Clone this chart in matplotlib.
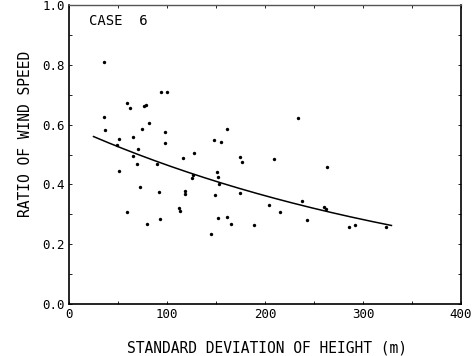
#!/usr/bin/env python3
import numpy as np
import matplotlib
matplotlib.use("Agg")
import matplotlib.pyplot as plt

# scatter points
sd_height = [35.2, 93.6, 99.5, 58.9, 62.2, 76.5, 78.5, 36.0, 36.7, 81.9,
             74.8, 97.7, 51.0, 65.6, 97.7, 48.7, 70.9, 147.7, 154.6, 161.5,
             65.8, 68.9, 89.5, 116.5, 127.8, 50.7, 125.5, 126.5, 174.5, 176.2,
             150.5, 151.7, 152.8, 72.4, 91.5, 118.2, 118.6, 149.3, 174.3, 59.2,
             112.2, 113.0, 79.9, 93.2, 152.3, 161.2, 165.3, 144.4, 189.1, 233.4,
             209.4, 263.3, 238.0, 204.1, 215.0, 260.5, 262.0, 243.2, 286.0, 292.1,
             323.5]
wind_ratio = [0.808, 0.708, 0.708, 0.673, 0.656, 0.662, 0.664, 0.625, 0.582, 0.604,
              0.584, 0.575, 0.551, 0.559, 0.537, 0.533, 0.519, 0.547, 0.541, 0.584,
              0.495, 0.468, 0.467, 0.488, 0.504, 0.446, 0.423, 0.430, 0.493, 0.474,
              0.440, 0.426, 0.403, 0.392, 0.376, 0.379, 0.369, 0.366, 0.372, 0.307,
              0.321, 0.311, 0.269, 0.284, 0.286, 0.291, 0.268, 0.234, 0.265, 0.623,
              0.485, 0.457, 0.346, 0.332, 0.308, 0.324, 0.318, 0.281, 0.256, 0.263,
              0.257]

# fitted curve  y = a * exp(-b * x)
fit_a = 0.596
fit_b = 0.00249
fit_range = (25, 329)

x_ticks = [0, 100, 200, 300, 400]
y_ticks = [0.0, 0.2, 0.4, 0.6, 0.8, 1.0]

FONT = "DejaVu Sans Mono"

fig = plt.figure(figsize=(4.74, 3.56), dpi=100)
ax = fig.add_axes([0.1456, 0.146, 0.827, 0.840])

ax.scatter(sd_height, wind_ratio, s=6, color="black", linewidths=0, zorder=3)

xf = np.linspace(fit_range[0], fit_range[1], 200)
ax.plot(xf, fit_a * np.exp(-fit_b * xf), color="black", linewidth=1.1)

ax.set_xlim(0, 400)
ax.set_ylim(0, 1.0)
ax.set_xticks(x_ticks)
ax.set_yticks(y_ticks)
ax.set_xticklabels([str(t) for t in x_ticks], fontfamily=FONT, fontsize=9)
ax.set_yticklabels([f"{t:.1f}" for t in y_ticks], fontfamily=FONT, fontsize=9)
ax.set_xticks(np.arange(0, 401, 50), minor=True)
ax.set_yticks(np.arange(0, 1.01, 0.1), minor=True)
ax.tick_params(which="both", direction="in", length=2, width=0.6,
               top=True, right=True, pad=3)

for side in ["left", "bottom", "right"]:
    ax.spines[side].set_linewidth(1.2)
ax.spines["top"].set_linewidth(1.0)
ax.spines["top"].set_color("#555555")

ax.text(20, 0.945, "CASE  6", fontfamily=FONT, fontsize=10, va="center", ha="left")

fig.text(0.564, 1 - 348 / 356, "STANDARD DEVIATION OF HEIGHT (m)",
         fontfamily=FONT, fontsize=10.5, ha="center", va="center")
fig.text(26 / 474, 1 - 134 / 356, "RATIO OF WIND SPEED",
         fontfamily=FONT, fontsize=10.5, ha="center", va="center", rotation=90)

fig.savefig("out.png", dpi=100)
